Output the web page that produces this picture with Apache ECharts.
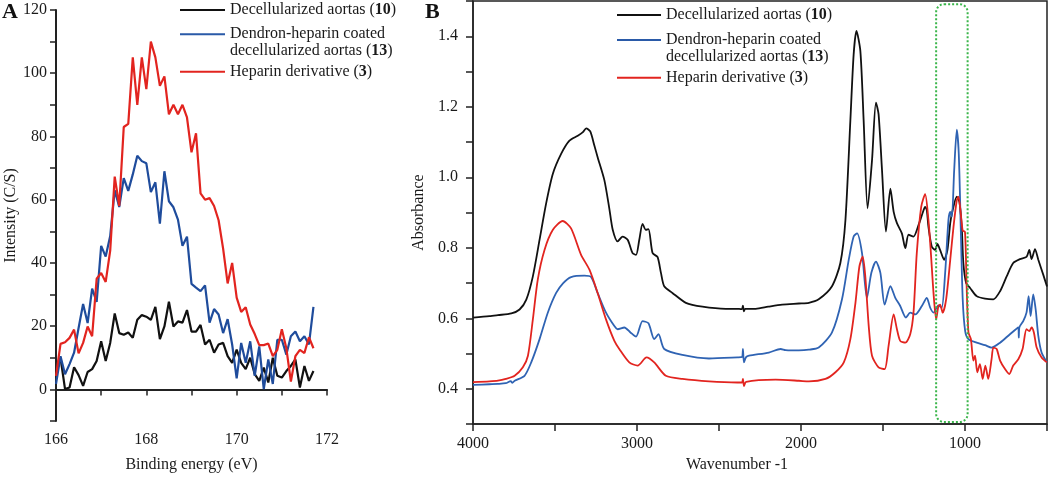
<!DOCTYPE html>
<html>
<head>
<meta charset="utf-8">
<script src="https://cdn.jsdelivr.net/npm/echarts@6/dist/echarts.min.js"></script>
<style>
html,body{margin:0;padding:0;background:#fff;}
#chart{width:1050px;height:478px;}
</style>
</head>
<body>
<div id="chart"></div>
<script>
// ---------- Panel A: XPS S2p ----------
const energy = [166.0,166.1,166.2,166.3,166.4,166.5,166.6,166.7,166.8,166.9,
  167.0,167.1,167.2,167.3,167.4,167.5,167.6,167.7,167.8,167.9,
  168.0,168.1,168.2,168.3,168.4,168.5,168.6,168.7,168.8,168.9,
  169.0,169.1,169.2,169.3,169.4,169.5,169.6,169.7,169.8,169.9,
  170.0,170.1,170.2,170.3,170.4,170.5,170.6,170.7,170.8,170.9,
  171.0,171.1,171.2,171.3,171.4,171.5,171.6,171.7];
const xpsDecell = [5.3,10,0.1,0.6,7,4.5,1.1,5.5,6.4,9,
  15.2,9,14.7,24,17.8,17.3,18,16.3,22,23.5,
  23,22,26.1,15.9,19.9,27.7,19.9,21.5,21.1,25.1,
  18.3,18.3,20.4,14.2,15.7,11.6,14.2,14.7,10.5,8.4,
  12.6,8.4,6.4,10,4.8,2.7,6.9,2.2,10,4.3,
  3.75,5.8,7.4,9.5,0.6,7.4,2.7,5.8];
const xpsCoated = [1.7,10.5,4.8,8,11.6,19.4,27,21,31.9,27.7,
  45.4,42,48.5,63,57.7,66.8,62.8,68,73.9,72.2,
  71.5,62.4,65.5,52.4,69,59.5,57.6,53.7,45.4,48.3,
  33.4,32.2,31.1,32.9,21.1,25.4,23.7,17.8,22.2,14.2,
  3.5,14.7,8.4,15.2,4.3,13.6,0.1,9.5,1.7,15.7,
  15.7,11,16.8,18.3,15.2,16.8,14.2,26.1];
const xpsHeparin = [4.3,14.4,14.9,16.3,18.9,11.4,14.7,19.9,16.8,35,
  36.8,34,43.9,67.3,58,83,84,105,90,105,
  95,110,105,96,99,87,90,87,90,86,
  75,81,62,60,60.5,58,53.5,44.5,33.5,40,
  29,24.5,26,20.5,17.5,14,14,14.5,10.5,12.5,
  19,13,2.5,10.5,12.5,11.5,16.5,13];

// ---------- Panel B: FTIR [wavenumber, absorbance] ----------
const ftirDecell = [[4000,0.602],[3900,0.606],[3848,0.609],[3766,0.614],[3716,0.625],[3675,0.653],[3635,0.719],[3594,0.823],[3554,0.926],[3513,1.010],[3462,1.067],[3412,1.104],[3361,1.118],[3330,1.128],[3310,1.139],[3285,1.13],[3260,1.09],[3240,1.057],[3199,0.992],[3169,0.912],[3148,0.851],[3118,0.818],[3088,0.832],[3057,0.823],[3027,0.785],[3006,0.780],[2986,0.823],[2966,0.868],[2946,0.851],[2930,0.853],[2905,0.785],[2875,0.774],[2854,0.729],[2834,0.691],[2784,0.672],[2702,0.644],[2601,0.633],[2459,0.627],[2378,0.627],[2360,0.626],[2354,0.636],[2348,0.620],[2340,0.627],[2276,0.627],[2200,0.633],[2115,0.639],[2013,0.642],[1952,0.644],[1892,0.654],[1811,0.691],[1760,0.757],[1729,0.879],[1699,1.161],[1679,1.348],[1662,1.415],[1638,1.358],[1618,1.161],[1594,0.912],[1567,1.048],[1543,1.212],[1527,1.179],[1506,1.020],[1482,0.846],[1455,0.968],[1435,0.902],[1415,0.870],[1385,0.841],[1364,0.799],[1344,0.837],[1314,0.832],[1283,0.865],[1259,0.898],[1243,0.916],[1233,0.907],[1223,0.860],[1203,0.804],[1182,0.794],[1168,0.811],[1152,0.794],[1127,0.766],[1107,0.794],[1090,0.870],[1075,0.907],[1050,0.945],[1034,0.930],[1020,0.860],[1010,0.757],[993,0.700],[969,0.686],[929,0.663],[878,0.656],[827,0.654],[786,0.677],[746,0.719],[706,0.757],[665,0.768],[625,0.774],[608,0.794],[594,0.768],[573,0.796],[553,0.766],[523,0.724],[500,0.690]];
const ftirCoated = [[4000,0.411],[3900,0.413],[3848,0.414],[3800,0.416],[3770,0.422],[3760,0.417],[3746,0.423],[3686,0.437],[3645,0.475],[3594,0.541],[3544,0.616],[3493,0.672],[3450,0.700],[3402,0.717],[3321,0.721],[3280,0.717],[3240,0.672],[3189,0.616],[3138,0.578],[3118,0.569],[3077,0.574],[3040,0.560],[3006,0.548],[2966,0.592],[2930,0.586],[2895,0.541],[2869,0.555],[2834,0.513],[2723,0.496],[2561,0.486],[2388,0.489],[2360,0.490],[2354,0.513],[2348,0.475],[2335,0.490],[2317,0.494],[2196,0.503],[2124,0.513],[2094,0.510],[2013,0.509],[1952,0.511],[1892,0.517],[1811,0.560],[1750,0.654],[1709,0.766],[1679,0.832],[1658,0.841],[1628,0.785],[1598,0.658],[1571,0.729],[1543,0.761],[1516,0.729],[1490,0.639],[1455,0.691],[1425,0.658],[1395,0.635],[1360,0.602],[1334,0.616],[1303,0.611],[1263,0.635],[1233,0.658],[1212,0.630],[1192,0.616],[1162,0.637],[1142,0.630],[1121,0.729],[1101,0.879],[1090,0.902],[1080,0.888],[1066,1.020],[1050,1.135],[1038,1.067],[1026,0.860],[1014,0.654],[999,0.564],[979,0.541],[929,0.531],[878,0.524],[838,0.517],[786,0.531],[726,0.555],[675,0.574],[672,0.545],[668,0.575],[645,0.592],[625,0.616],[612,0.663],[600,0.606],[584,0.668],[569,0.625],[553,0.550],[533,0.503],[500,0.475]];
const ftirHeparin = [[4000,0.419],[3900,0.421],[3848,0.423],[3800,0.428],[3746,0.437],[3696,0.461],[3665,0.494],[3635,0.597],[3605,0.710],[3564,0.794],[3513,0.851],[3453,0.876],[3402,0.855],[3341,0.780],[3290,0.738],[3240,0.672],[3189,0.597],[3138,0.536],[3108,0.513],[3047,0.475],[2996,0.466],[2942,0.489],[2895,0.475],[2824,0.437],[2723,0.428],[2561,0.421],[2388,0.418],[2360,0.418],[2354,0.428],[2348,0.408],[2335,0.420],[2155,0.426],[2013,0.423],[1952,0.421],[1851,0.428],[1790,0.447],[1739,0.475],[1699,0.541],[1668,0.644],[1644,0.747],[1624,0.775],[1608,0.719],[1587,0.578],[1567,0.494],[1527,0.461],[1490,0.456],[1466,0.522],[1435,0.611],[1415,0.569],[1395,0.536],[1364,0.531],[1334,0.555],[1314,0.616],[1294,0.785],[1267,0.916],[1243,0.952],[1223,0.879],[1208,0.785],[1192,0.672],[1176,0.597],[1162,0.635],[1152,0.639],[1136,0.616],[1115,0.654],[1090,0.766],[1070,0.860],[1050,0.935],[1040,0.945],[1026,0.898],[1014,0.849],[1000,0.845],[990,0.691],[979,0.560],[964,0.541],[949,0.480],[939,0.494],[925,0.447],[909,0.470],[892,0.428],[876,0.466],[858,0.428],[838,0.484],[827,0.517],[807,0.513],[786,0.480],[756,0.456],[730,0.442],[706,0.466],[675,0.484],[649,0.513],[625,0.569],[608,0.564],[594,0.574],[580,0.560],[563,0.517],[533,0.489],[500,0.475]];

const seriesNames = ['Decellularized aortas (10)', 'Dendron-heparin coated decellularized aortas (13)', 'Heparin derivative (3)'];
const legendLabels = ['Decellularized aortas ({b|10})', 'Dendron-heparin coated\ndecellularized aortas ({b|13})', 'Heparin derivative ({b|3})'];
const colors = ['#111111', '#2a5aa8', '#e2241f'];

const SERIF = "'Liberation Serif','Times New Roman',serif";
const FS = 16, LH = 16.5;

const chart = echarts.init(document.getElementById('chart'), null, {renderer: 'canvas'});

function legendItem(idx, left, top, w) {
  const two = idx === 1;
  const h = two ? 2 * LH : 2;
  const c = 8.25;
  const icon = two
    ? `path://M0,0L0.01,0L0.01,0.01Z M0,${c - 1}L${w},${c - 1}L${w},${c + 1}L0,${c + 1}Z M0,${h - 0.01}L0.01,${h}L0,${h}Z`
    : `path://M0,0L${w},0L${w},2L0,2Z`;
  return {
    left: left, top: top, padding: 0, orient: 'vertical',
    itemWidth: w, itemHeight: h, selectedMode: false,
    data: [{name: seriesNames[idx], icon: icon, itemStyle: {color: colors[idx], borderWidth: 0}}],
    formatter: () => legendLabels[idx],
    textStyle: {
      fontFamily: SERIF, fontSize: FS, lineHeight: LH, color: '#1a1a1a',
      rich: {b: {fontFamily: SERIF, fontSize: FS, lineHeight: LH, fontWeight: 'bold', color: '#1a1a1a'}}
    }
  };
}

const axisFont = {fontFamily: SERIF, fontSize: FS, color: '#1a1a1a'};

const option = {
  animation: false,
  backgroundColor: '#ffffff',
  grid: [
    {left: 56, top: 10, width: 271, height: 415, show: false},
    {left: 473, top: 1, width: 576, height: 424, show: true, borderColor: '#222', borderWidth: 1.5, backgroundColor: 'transparent'}
  ],
  legend: [
    legendItem(0, 180, 1.75, 45),
    legendItem(1, 180, 26, 45),
    legendItem(2, 180, 63.5, 45),
    legendItem(0, 617, 6.75, 44),
    legendItem(1, 617, 31.75, 44),
    legendItem(2, 617, 69.5, 44)
  ],
  xAxis: [
    {
      gridIndex: 0, type: 'value', min: 166, max: 172, interval: 1,
      axisLine: {show: true, lineStyle: {color: '#222', width: 2}},
      axisTick: {show: true, inside: false, length: 6, lineStyle: {color: '#222', width: 1.5}},
      axisLabel: Object.assign({margin: 11, formatter: v => (Math.round(v) % 2 === 0 ? String(v) : '')}, axisFont),
      splitLine: {show: false},
      name: 'Binding energy (eV)', nameLocation: 'middle', nameGap: 36,
      nameTextStyle: axisFont
    },
    {
      gridIndex: 1, type: 'value', min: 500, max: 4000, interval: 500, inverse: true,
      axisLine: {show: true, onZero: false, lineStyle: {color: '#222', width: 1.5}},
      axisTick: {show: true, inside: false, length: 7, lineStyle: {color: '#222', width: 1.5}},
      axisLabel: Object.assign({margin: 12, formatter: v => (v % 1000 === 0 ? String(v) : '')}, axisFont),
      splitLine: {show: false},
      name: 'Wavenumber -1', nameLocation: 'middle', nameGap: 30,
      nameTextStyle: Object.assign({padding: [0, 46, 0, 0]}, axisFont)
    }
  ],
  yAxis: [
    {
      gridIndex: 0, type: 'value', min: -10, max: 120, interval: 10,
      axisLine: {show: true, onZero: false, lineStyle: {color: '#222', width: 2}},
      axisTick: {show: true, inside: false, length: 6, lineStyle: {color: '#222', width: 1.5}},
      axisLabel: Object.assign({margin: 9, formatter: v => (v >= 0 && Math.round(v) % 20 === 0 ? String(v) : '')}, axisFont),
      splitLine: {show: false},
      name: 'Intensity (C/S)', nameLocation: 'middle', nameGap: 30, nameRotate: 90,
      nameTextStyle: axisFont
    },
    {
      gridIndex: 1, type: 'value', min: 0.3, max: 1.5, interval: 0.1,
      axisLine: {show: true, onZero: false, lineStyle: {color: '#222', width: 1.5}},
      axisTick: {show: true, inside: false, length: 7, lineStyle: {color: '#222', width: 1.5}},
      axisLabel: Object.assign({margin: 15, formatter: v => {
        const k = Math.round(v * 10);
        return (k % 2 === 0 && k >= 4 && k <= 14) ? (k / 10).toFixed(1) : '';
      }}, axisFont),
      splitLine: {show: false},
      name: 'Absorbance', nameLocation: 'middle', nameGap: 34, nameRotate: 90,
      nameTextStyle: axisFont
    }
  ],
  series: [
    {name: seriesNames[0], type: 'line', xAxisIndex: 0, yAxisIndex: 0, symbol: 'none', showSymbol: false,
      data: energy.map((e, i) => [e, xpsDecell[i]]), lineStyle: {color: colors[0], width: 2.2}, itemStyle: {color: colors[0]}},
    {name: seriesNames[1], type: 'line', xAxisIndex: 0, yAxisIndex: 0, symbol: 'none', showSymbol: false,
      data: energy.map((e, i) => [e, xpsCoated[i]]), lineStyle: {color: '#1f4c9c', width: 2.2}, itemStyle: {color: colors[1]}},
    {name: seriesNames[2], type: 'line', xAxisIndex: 0, yAxisIndex: 0, symbol: 'none', showSymbol: false,
      data: energy.map((e, i) => [e, xpsHeparin[i]]), lineStyle: {color: colors[2], width: 2.2}, itemStyle: {color: colors[2]}},
    {name: seriesNames[0], type: 'line', xAxisIndex: 1, yAxisIndex: 1, symbol: 'none', showSymbol: false, smooth: 0.25,
      data: ftirDecell, lineStyle: {color: colors[0], width: 1.8}, itemStyle: {color: colors[0]}},
    {name: seriesNames[1], type: 'line', xAxisIndex: 1, yAxisIndex: 1, symbol: 'none', showSymbol: false, smooth: 0.25,
      data: ftirCoated, lineStyle: {color: '#2f63b3', width: 1.8}, itemStyle: {color: colors[1]}},
    {name: seriesNames[2], type: 'line', xAxisIndex: 1, yAxisIndex: 1, symbol: 'none', showSymbol: false, smooth: 0.25,
      data: ftirHeparin, lineStyle: {color: colors[2], width: 1.8}, itemStyle: {color: colors[2]}}
  ]
};
chart.setOption(option);

// highlighted band (dotted green box) placed through the panel-B scales
const boxWave = [1176, 984];
const boxAbs = [1.491, 0.306];
const p1 = chart.convertToPixel({gridIndex: 1}, [boxWave[0], boxAbs[0]]);
const p2 = chart.convertToPixel({gridIndex: 1}, [boxWave[1], boxAbs[1]]);
chart.setOption({
  graphic: [
    {type: 'rect', z: 100,
      shape: {x: Math.min(p1[0], p2[0]), y: Math.min(p1[1], p2[1]), width: Math.abs(p2[0] - p1[0]), height: Math.abs(p2[1] - p1[1]), r: 8},
      style: {fill: 'none', stroke: '#3ab54a', lineWidth: 2, lineDash: [2, 2]}},
    {type: 'text', left: 2, top: 1, z: 100,
      style: {text: 'A', font: "bold 22px 'Liberation Serif', serif", fill: '#111'}},
    {type: 'text', left: 425, top: 1, z: 100,
      style: {text: 'B', font: "bold 22px 'Liberation Serif', serif", fill: '#111'}}
  ]
});
</script>
</body>
</html>
